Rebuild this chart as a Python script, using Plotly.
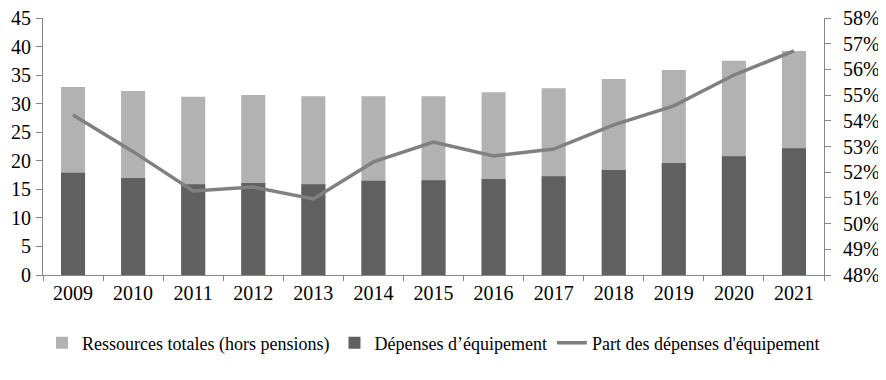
import plotly.graph_objects as go

years = ["2009", "2010", "2011", "2012", "2013", "2014", "2015", "2016", "2017", "2018", "2019", "2020", "2021"]
ressources = [32.9, 32.2, 31.2, 31.5, 31.3, 31.3, 31.3, 32.0, 32.7, 34.3, 35.9, 37.5, 39.2]
depenses = [17.9, 17.0, 15.9, 16.1, 15.9, 16.5, 16.6, 16.8, 17.3, 18.4, 19.6, 20.8, 22.2]
part = [54.23, 52.8, 51.27, 51.42, 50.96, 52.4, 53.17, 52.63, 52.9, 53.84, 54.58, 55.78, 56.72]

FONT = "Liberation Serif"
AX = "#868686"
tf = dict(family=FONT, size=20, color="black")

fig = go.Figure()
fig.add_trace(go.Bar(x=years, y=ressources, name="Ressources totales (hors pensions)",
                     marker=dict(color="#b2b2b2", line=dict(width=0)), width=0.4))
fig.add_trace(go.Bar(x=years, y=depenses, name="Dépenses d’équipement",
                     marker=dict(color="#606060", line=dict(width=0)), width=0.4))
fig.add_trace(go.Scatter(x=years, y=part, name="Part des dépenses d'équipement", yaxis="y2",
                         mode="lines", line=dict(color="#808080", width=3.5)))

# page body has an 8px default margin, so the figure is drawn 8px smaller
fig.update_layout(
    width=878, height=372,
    margin=dict(l=35, r=62, t=10, b=105, autoexpand=False),
    paper_bgcolor="white", plot_bgcolor="white",
    barmode="overlay",
    font=dict(family=FONT, size=19, color="black"),
    showlegend=True,
    legend=dict(orientation="h", x=0.5, xanchor="center", y=-0.265, yanchor="middle",
                font=dict(family=FONT, size=18, color="black"), itemwidth=30, tracegroupgap=0),
    xaxis=dict(showline=True, linecolor=AX, linewidth=1, ticks="outside", tickson="boundaries",
               ticklen=5, tickcolor=AX, showgrid=False, tickfont=tf, automargin=False),
    yaxis=dict(range=[0, 45], dtick=5, showline=True, linecolor=AX, linewidth=1, showgrid=False,
               ticks="outside", ticklen=6, tickcolor=AX, zeroline=False, tickfont=tf,
               automargin=False, ticklabelstandoff=1, ticklabeloverflow="allow"),
    yaxis2=dict(range=[48, 58], dtick=1, overlaying="y", side="right", showline=True, linecolor=AX,
                linewidth=1, ticks="outside", ticklen=6, tickcolor=AX, showgrid=False,
                ticksuffix="%", zeroline=False, tickfont=tf, automargin=False,
                ticklabelstandoff=8, ticklabeloverflow="allow"),
)

fig.write_html("out.html")
